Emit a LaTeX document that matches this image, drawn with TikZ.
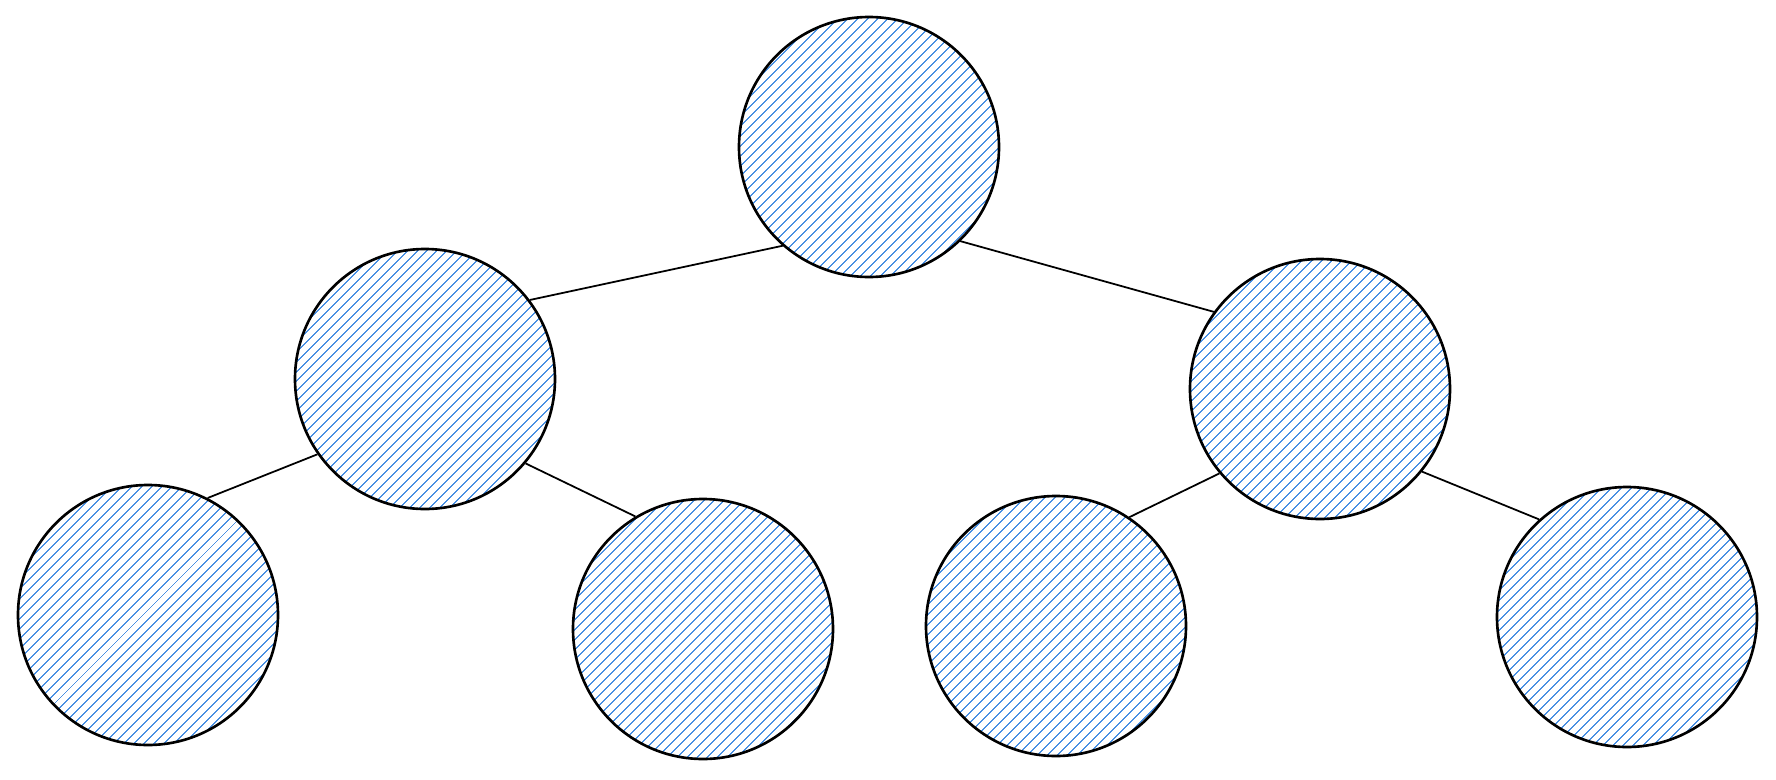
\documentclass[tikz,border=0pt]{standalone}
\usepackage{tikz}
\usetikzlibrary{positioning,patterns.meta}
\usepackage{xcolor}
\definecolor{hatchblue}{HTML}{4A90E2}

\begin{document}
\begin{tikzpicture}[node distance=4.7cm,on grid,
    vert/.style={circle,draw=black,line width=1.5pt,minimum size=5.2cm,inner sep=0pt,
      pattern={Lines[angle=45,distance=4pt,line width=0.75pt]},pattern color=hatchblue},
    link/.style={draw=black,line width=1pt,double=white,double distance=0.5pt}]
   \useasboundingbox (0,0) rectangle (35.52,-15.58);
   \node[vert] (r) at (17.38,-2.94) {};
   \node[vert] (a) [below left=4.64cm and 8.88cm of r] {};
   \node[vert] (b) [below right=4.84cm and 9.02cm of r] {};
   \node[vert] (a1) [below left=4.72cm and 5.54cm of a] {};
   \node[vert] (a2) [below right=5.0cm and 5.56cm of a] {};
   \node[vert] (b1) [below left=4.74cm and 5.28cm of b] {};
   \node[vert] (b2) [below right=4.56cm and 6.14cm of b] {};

   \path[link]
   (r.229) edge (a.37)
   (r.314) edge (b.144)
   (a.215) edge (a1.63)
   (a.320) edge (a2.121)
   (b.220) edge (b1.56)
   (b.321) edge (b2.132);
\end{tikzpicture}
\end{document}
